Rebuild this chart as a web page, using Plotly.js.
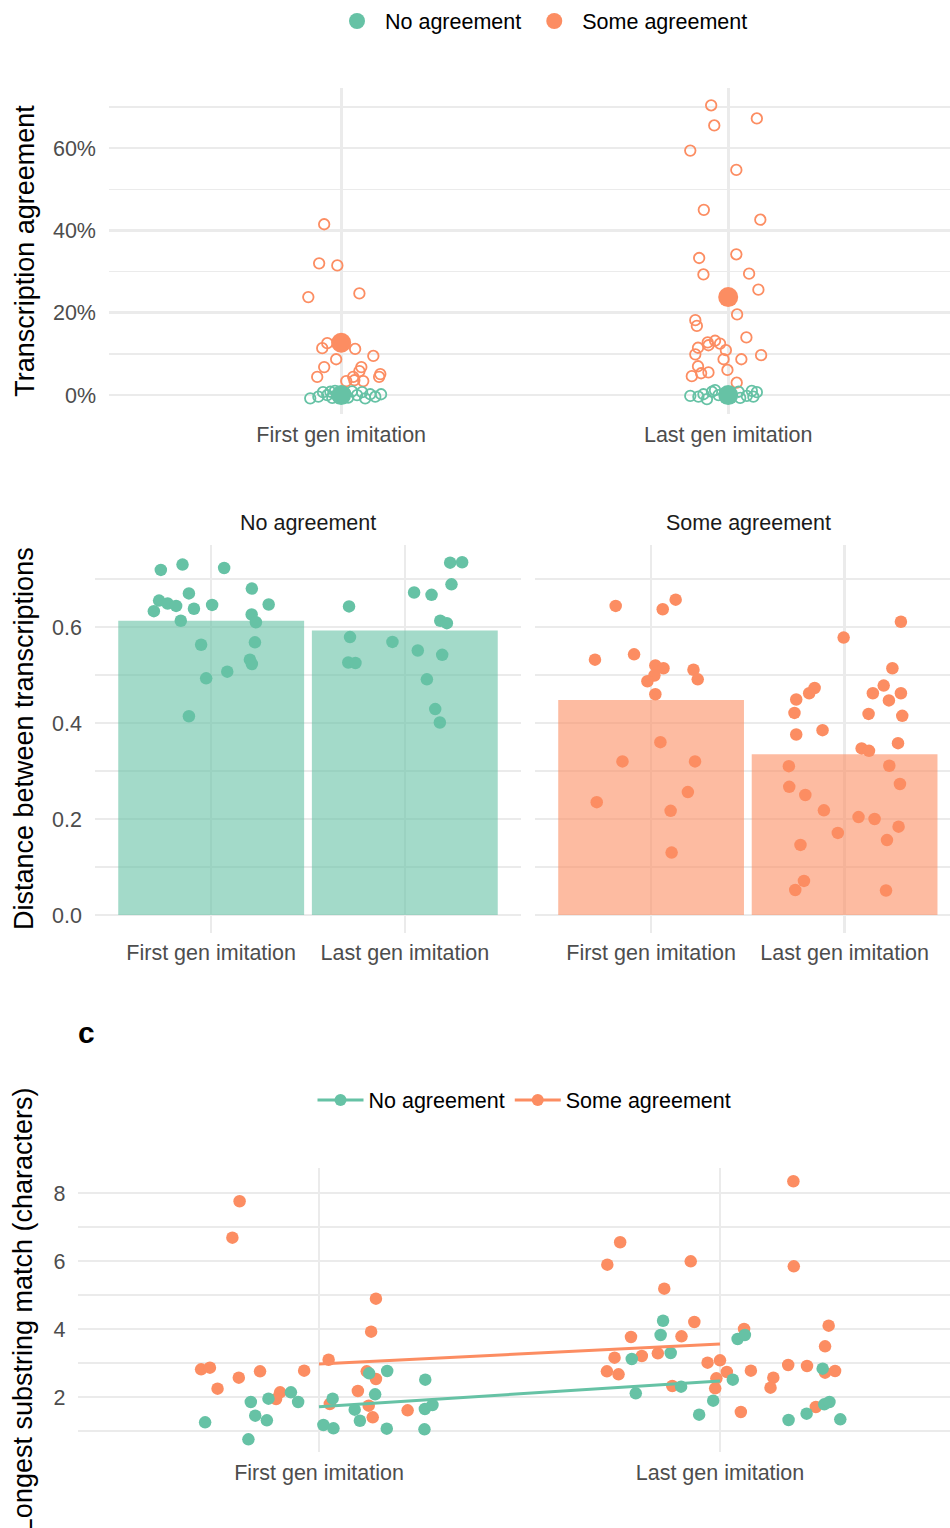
<!DOCTYPE html>
<html>
<head>
<meta charset="utf-8">
<script src="https://cdn.plot.ly/plotly-3.0.1.min.js"></script>
<style>
  html, body { margin: 0; padding: 0; background: #ffffff; }
  #chart { width: 950px; height: 1528px; }
</style>
</head>
<body>
<div id="chart"></div>
<script>
// ---- categories and groups ----
const categories = ["First gen imitation", "Last gen imitation"];
const groupNames = ["No agreement", "Some agreement"];

// ---- transcription agreement (proportion), one value per transcription ----
// horizontal jitter offsets (in category units) are kept beside each series
const agreeSomeFirst = [0.415, 0.320, 0.315, 0.238, 0.247, 0.114, 0.126, 0.112, 0.095, 0.087,
                        0.068, 0.068, 0.058, 0.044, 0.044, 0.036, 0.034, 0.034, 0.051, 0.044];
const agreeSomeFirstJit = [-0.044, -0.057, -0.010, -0.085, 0.047, -0.049, -0.036, 0.036, 0.083, -0.013,
                           -0.044, 0.052, 0.047, -0.062, 0.031, 0.034, 0.057, 0.013, 0.101, 0.098];
const agreeSomeLast = [0.704, 0.672, 0.655, 0.594, 0.547, 0.450, 0.426, 0.333, 0.342, 0.293,
                       0.295, 0.256, 0.196, 0.182, 0.168, 0.140, 0.128, 0.132, 0.125, 0.115,
                       0.121, 0.109, 0.099, 0.087, 0.087, 0.097, 0.070, 0.061, 0.046, 0.053,
                       0.055, 0.030];
const agreeSomeLastJit = [-0.044, 0.074, -0.036, -0.098, 0.021, -0.063, 0.083, -0.075, 0.021, -0.064,
                          0.054, 0.078, 0.023, -0.085, -0.081, 0.047, -0.053, -0.034, -0.021, -0.078,
                          -0.051, -0.006, -0.085, -0.012, 0.034, 0.085, -0.078, -0.002, -0.094, -0.070,
                          -0.051, 0.022];
const agreeNoFirst = [-0.008, -0.004, 0.007, 0.000, 0.008, -0.007, 0.010, -0.003, 0.005, -0.006,
                      0.009, 0.000, 0.007, -0.008, 0.002, -0.004, 0.002];
const agreeNoFirstJit = [-0.080, -0.059, -0.047, -0.036, -0.028, -0.023, -0.016, -0.008, 0.010, 0.018,
                         0.028, 0.041, 0.054, 0.062, 0.075, 0.088, 0.103];
const agreeNoLast = [-0.002, -0.004, 0.002, -0.010, 0.008, 0.012, 0.000, 0.008, -0.007, -0.002,
                     0.010, -0.004, 0.007];
const agreeNoLastJit = [-0.098, -0.077, -0.064, -0.055, -0.042, -0.034, -0.025, 0.027, 0.031, 0.048,
                        0.061, 0.065, 0.074];
const agreeMeanNo = [0.0, 0.0];
const agreeMeanSome = [0.127, 0.238];

// ---- distance between transcriptions ----
const distNoFirst = [0.719, 0.730, 0.723, 0.670, 0.655, 0.649, 0.644, 0.633, 0.638, 0.646,
                     0.680, 0.647, 0.613, 0.626, 0.610, 0.563, 0.568, 0.532, 0.523, 0.507,
                     0.493, 0.414];
const distNoFirstJit = [-0.260, -0.148, 0.067, -0.115, -0.269, -0.225, -0.181, -0.296, -0.089, 0.005,
                        0.210, 0.297, -0.157, 0.209, 0.231, -0.052, 0.226, 0.200, 0.210, 0.083,
                        -0.026, -0.115];
const distNoLast = [0.734, 0.735, 0.689, 0.672, 0.667, 0.643, 0.613, 0.608, 0.579, 0.569,
                    0.551, 0.542, 0.526, 0.525, 0.491, 0.429, 0.401];
const distNoLastJit = [0.234, 0.296, 0.241, 0.048, 0.138, -0.288, 0.183, 0.217, -0.283, -0.064,
                       0.067, 0.193, -0.292, -0.255, 0.114, 0.157, 0.181];
const distSomeFirst = [0.644, 0.637, 0.657, 0.532, 0.543, 0.520, 0.514, 0.499, 0.487, 0.511,
                       0.491, 0.460, 0.360, 0.320, 0.320, 0.256, 0.235, 0.217, 0.130];
const distSomeFirstJit = [-0.183, 0.060, 0.127, -0.290, -0.088, 0.022, 0.064, 0.017, -0.019, 0.219,
                          0.241, 0.022, 0.048, -0.148, 0.227, 0.190, -0.281, 0.101, 0.106];
const distSomeLast = [0.611, 0.578, 0.514, 0.473, 0.462, 0.449, 0.478, 0.462, 0.462, 0.447,
                      0.421, 0.419, 0.415, 0.376, 0.385, 0.347, 0.342, 0.358, 0.310, 0.311,
                      0.267, 0.273, 0.250, 0.218, 0.204, 0.200, 0.184, 0.171, 0.156, 0.146,
                      0.071, 0.052, 0.051];
const distSomeLastJit = [0.291, -0.005, 0.247, -0.155, -0.183, -0.250, 0.202, 0.146, 0.291, 0.229,
                         -0.259, 0.124, 0.298, -0.250, -0.114, 0.088, 0.126, 0.276, -0.288, 0.231,
                         -0.286, 0.286, -0.203, -0.107, 0.072, 0.155, 0.279, -0.035, 0.219, -0.228,
                         -0.210, -0.255, 0.214];
const distMeanNo = [0.613, 0.5925];
const distMeanSome = [0.448, 0.335];

// ---- longest substring match (characters) ----
const lcsSomeFirst = [7.756, 6.685, 4.891, 3.921, 3.097, 2.814, 2.862, 2.568, 2.755, 2.775,
                      2.245, 2.137, 1.940, 2.755, 2.529, 2.176, 1.794, 1.745, 1.402, 1.608];
const lcsSomeFirstJit = [-0.198, -0.216, 0.142, 0.130, 0.024, -0.294, -0.272, -0.200, -0.147, -0.037,
                         -0.253, -0.097, -0.107, 0.119, 0.142, 0.097, 0.027, 0.124, 0.134, 0.221];
const lcsNoFirst = [1.255, 0.756, 1.853, 1.451, 1.314, 1.951, 2.137, 1.853, 1.176, 1.079,
                    1.951, 1.627, 1.303, 2.696, 2.078, 2.765, 1.068, 2.510, 1.647, 1.765, 1.050];
const lcsNoFirstJit = [-0.284, -0.176, -0.170, -0.159, -0.130, -0.126, -0.070, -0.052, 0.011, 0.036,
                       0.034, 0.089, 0.102, 0.125, 0.140, 0.170, 0.169, 0.265, 0.264, 0.283, 0.263];
const lcsSomeLast = [8.344, 6.550, 5.892, 5.990, 5.844, 5.186, 4.206, 4.098, 3.765, 3.784,
                     4.000, 3.490, 3.157, 3.206, 3.284, 2.755, 2.667, 3.010, 3.078, 2.735,
                     2.775, 2.549, 2.255, 2.569, 2.275, 2.941, 2.912, 2.716, 2.765, 2.324,
                     1.559, 1.706];
const lcsSomeLastJit = [0.183, -0.249, -0.281, -0.073, 0.184, -0.139, -0.064, 0.271, -0.222, -0.096,
                        0.060, 0.262, -0.263, -0.195, -0.155, -0.282, -0.253, -0.031, 0.000, 0.017,
                        0.077, -0.009, -0.012, 0.133, 0.126, 0.170, 0.217, 0.262, 0.287, -0.119,
                        0.052, 0.239];
const lcsNoLast = [4.244, 3.824, 3.294, 3.118, 2.108, 2.304, 1.480, 1.892, 2.510, 3.706,
                   3.824, 2.834, 1.324, 1.510, 1.784, 1.853, 1.343];
const lcsNoLastJit = [-0.142, -0.148, -0.123, -0.220, -0.210, -0.097, -0.052, -0.017, 0.032, 0.044,
                      0.062, 0.256, 0.171, 0.216, 0.260, 0.273, 0.300];
// linear fit across generations, evaluated at the two positions
const lcsFitNo = [1.715, 2.47];
const lcsFitSome = [2.97, 3.56];

// ---- styling ----
const GREEN = "#66C2A5";
const ORANGE = "#FC8D62";
const GREEN_BAR = "rgba(102,194,165,0.6)";
const ORANGE_BAR = "rgba(252,141,98,0.6)";
const FONT = "Liberation Sans, Arial, Helvetica, sans-serif";
const GRID = "#EBEBEB";
const TICK_FONT = { family: FONT, size: 21.5, color: "#4D4D4D" };
const TITLE_FONT = { family: FONT, size: 27, color: "#000000" };
const CAT_POS = [1, 2];

const W = 950, H = 1528;
const px = v => v / W;          // horizontal pixel -> paper
const py = v => 1 - v / H;      // vertical pixel -> paper

function place(catIndex, offsets) {
  return offsets.map(o => catIndex + o);
}

const traces = [];

// panel: transcription agreement
traces.push({
  type: "scatter", mode: "markers", xaxis: "x", yaxis: "y", showlegend: false, hoverinfo: "skip",
  x: place(1, agreeSomeFirstJit).concat(place(2, agreeSomeLastJit)),
  y: agreeSomeFirst.concat(agreeSomeLast),
  marker: { symbol: "circle-open", size: 10.5, color: ORANGE, line: { width: 1.8 } }
});
traces.push({
  type: "scatter", mode: "markers", xaxis: "x", yaxis: "y", showlegend: false, hoverinfo: "skip",
  x: place(1, agreeNoFirstJit).concat(place(2, agreeNoLastJit)),
  y: agreeNoFirst.concat(agreeNoLast),
  marker: { symbol: "circle-open", size: 10.5, color: GREEN, line: { width: 1.8 } }
});
traces.push({
  type: "scatter", mode: "markers", xaxis: "x", yaxis: "y", name: groupNames[0],
  legend: "legend", showlegend: true, hoverinfo: "skip",
  x: CAT_POS, y: agreeMeanNo,
  marker: { symbol: "circle", size: 20, color: GREEN }
});
traces.push({
  type: "scatter", mode: "markers", xaxis: "x", yaxis: "y", name: groupNames[1],
  legend: "legend", showlegend: true, hoverinfo: "skip",
  x: CAT_POS, y: agreeMeanSome,
  marker: { symbol: "circle", size: 20, color: ORANGE }
});

// panel: distance between transcriptions, faceted by group
traces.push({
  type: "bar", xaxis: "x2", yaxis: "y2", showlegend: false, hoverinfo: "skip",
  x: CAT_POS, y: distMeanNo, width: 0.96, marker: { color: GREEN_BAR, line: { width: 0 } }
});
traces.push({
  type: "bar", xaxis: "x3", yaxis: "y3", showlegend: false, hoverinfo: "skip",
  x: CAT_POS, y: distMeanSome, width: 0.96, marker: { color: ORANGE_BAR, line: { width: 0 } }
});
traces.push({
  type: "scatter", mode: "markers", xaxis: "x2", yaxis: "y2", showlegend: false, hoverinfo: "skip",
  x: place(1, distNoFirstJit).concat(place(2, distNoLastJit)),
  y: distNoFirst.concat(distNoLast),
  marker: { size: 12.5, color: GREEN }
});
traces.push({
  type: "scatter", mode: "markers", xaxis: "x3", yaxis: "y3", showlegend: false, hoverinfo: "skip",
  x: place(1, distSomeFirstJit).concat(place(2, distSomeLastJit)),
  y: distSomeFirst.concat(distSomeLast),
  marker: { size: 12.5, color: ORANGE }
});

// panel c: longest substring match
traces.push({
  type: "scatter", mode: "markers", xaxis: "x4", yaxis: "y4", showlegend: false, hoverinfo: "skip",
  x: place(1, lcsSomeFirstJit).concat(place(2, lcsSomeLastJit)),
  y: lcsSomeFirst.concat(lcsSomeLast),
  marker: { size: 12.5, color: ORANGE }
});
traces.push({
  type: "scatter", mode: "markers", xaxis: "x4", yaxis: "y4", showlegend: false, hoverinfo: "skip",
  x: place(1, lcsNoFirstJit).concat(place(2, lcsNoLastJit)),
  y: lcsNoFirst.concat(lcsNoLast),
  marker: { size: 12.5, color: GREEN }
});
traces.push({
  type: "scatter", mode: "lines", xaxis: "x4", yaxis: "y4", showlegend: false, hoverinfo: "skip",
  x: CAT_POS, y: lcsFitNo, line: { color: GREEN, width: 3 }
});
traces.push({
  type: "scatter", mode: "lines", xaxis: "x4", yaxis: "y4", showlegend: false, hoverinfo: "skip",
  x: CAT_POS, y: lcsFitSome, line: { color: ORANGE, width: 3 }
});
// legend keys for panel c (no drawn data)
[[groupNames[0], GREEN], [groupNames[1], ORANGE]].forEach(([name, col]) => {
  traces.push({
    type: "scatter", mode: "lines+markers", xaxis: "x4", yaxis: "y4", name: name,
    legend: "legend2", showlegend: true, hoverinfo: "skip",
    x: [null], y: [null],
    line: { color: col, width: 3 }, marker: { size: 12, color: col }
  });
});

// ---- axes ----
function catAxis(domain, range, anchor) {
  return {
    domain: domain, range: range, anchor: anchor,
    tickmode: "array", tickvals: CAT_POS, ticktext: categories,
    showgrid: true, gridcolor: GRID, gridwidth: 2.6,
    zeroline: false, showline: false, ticks: "",
    tickfont: TICK_FONT, ticklabelstandoff: 5, fixedrange: true
  };
}
function valAxis(domain, range, anchor, dtick, fmt, title, showLabels, standoff) {
  const ax = {
    domain: domain, range: range, anchor: anchor,
    tickmode: "linear", tick0: 0, dtick: dtick, tickformat: fmt,
    showgrid: true, gridcolor: GRID, gridwidth: 2.6,
    minor: { dtick: dtick / 2, showgrid: true, gridcolor: GRID, gridwidth: 1.3, ticks: "" },
    zeroline: false, showline: false, ticks: "",
    showticklabels: showLabels,
    tickfont: TICK_FONT, ticklabelstandoff: 12, fixedrange: true
  };
  if (title) ax.title = { text: title, font: TITLE_FONT, standoff: standoff };
  return ax;
}

const layout = {
  width: W, height: H,
  margin: { l: 0, r: 0, t: 0, b: 0 },
  paper_bgcolor: "#ffffff", plot_bgcolor: "#ffffff",
  font: { family: FONT, color: "#000000" },
  showlegend: true,
  barmode: "overlay",

  xaxis: catAxis([px(109), 1], [0.4, 0.4 + (W - 109) / 387], "y"),
  yaxis: valAxis([py(414), py(88)], [-0.046, 0.746], "x", 0.2, ".0%", "Transcription agreement", true, 10),

  xaxis2: catAxis([px(95), px(521)], [0.4, 2.6], "y2"),
  yaxis2: valAxis([py(932.6), py(544.8)], [-0.0367, 0.7713], "x2", 0.2, ".1f", "Distance between transcriptions", true, 10),
  xaxis3: catAxis([px(535), 1], [0.4, 0.4 + (W - 535) / 193.5], "y3"),
  yaxis3: valAxis([py(932.6), py(544.8)], [-0.0367, 0.7713], "x3", 0.2, ".1f", null, false, 0),

  xaxis4: catAxis([px(78.4), 1], [0.4, 0.4 + (W - 78.4) / 401], "y4"),
  yaxis4: valAxis([py(1452.2), py(1168.4)], [0.377, 8.723], "x4", 2, "d", "Longest substring match (characters)", true, 12),

  legend: {
    orientation: "h", x: px(329), xanchor: "left", y: py(21), yanchor: "middle",
    itemwidth: 46,
    font: { family: FONT, size: 21.5, color: "#000000" },
    bgcolor: "rgba(0,0,0,0)", borderwidth: 0, traceorder: "normal"
  },
  legend2: {
    orientation: "h", x: px(312.5), xanchor: "left", y: py(1100), yanchor: "middle",
    itemwidth: 46,
    font: { family: FONT, size: 21.5, color: "#000000" },
    bgcolor: "rgba(0,0,0,0)", borderwidth: 0, traceorder: "normal"
  },

  annotations: [
    { text: groupNames[0], xref: "paper", yref: "paper", x: px(308), y: py(523),
      xanchor: "center", yanchor: "middle", showarrow: false,
      font: { family: FONT, size: 21.5, color: "#1A1A1A" } },
    { text: groupNames[1], xref: "paper", yref: "paper", x: px(748), y: py(523),
      xanchor: "center", yanchor: "middle", showarrow: false,
      font: { family: FONT, size: 21.5, color: "#1A1A1A" } },
    { text: "<b>c</b>", xref: "paper", yref: "paper", x: px(86), y: py(1032),
      xanchor: "center", yanchor: "middle", showarrow: false,
      font: { family: FONT, size: 30, color: "#000000" } }
  ]
};

Plotly.newPlot("chart", traces, layout, { displayModeBar: false, staticPlot: true });
</script>
</body>
</html>
